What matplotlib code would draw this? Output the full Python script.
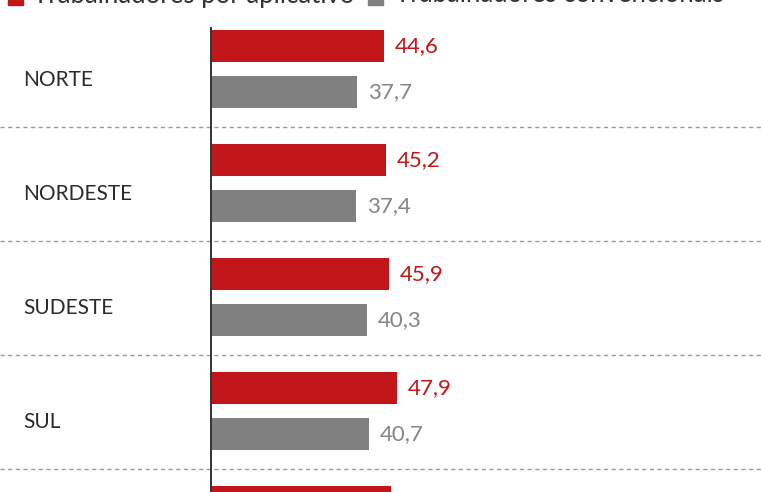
import numpy as np
import matplotlib.pyplot as plt

plt.rcParams['font.family'] = ['Lato', 'DejaVu Sans']

# dados (horas trabalhadas por semana)
regioes = ['NORTE', 'NORDESTE', 'SUDESTE', 'SUL', 'CENTRO-OESTE']
aplicativo = [44.6, 45.2, 45.9, 47.9, 46.4]
convencionais = [37.7, 37.4, 40.3, 40.7, 40.0]
legenda = ['Trabalhadores por aplicativo', 'Trabalhadores convencionais']

vermelho = '#c1161a'
cinza = '#808080'

fig = plt.figure(figsize=(7.61, 4.92), dpi=100)
ax = fig.add_axes([0, 0, 1, 1])

px = 3.879  # pixels por unidade
ax.set_xlim(-211 / px, 550 / px)
ax.set_ylim(3.711, -0.605)

y = np.arange(len(regioes))
h = 0.28
ax.barh(y - 0.2, aplicativo, height=h, color=vermelho)
ax.barh(y + 0.2, convencionais, height=h, color=cinza)

# so as 4 primeiras regioes aparecem inteiras no recorte
for i in range(4):
    ax.text(aplicativo[i] + 2.8, y[i] - 0.2, f'{aplicativo[i]:.1f}'.replace('.', ','),
            color=vermelho, fontsize=16, va='center', ha='left')
    ax.text(convencionais[i] + 2.8, y[i] + 0.2, f'{convencionais[i]:.1f}'.replace('.', ','),
            color='#858585', fontsize=16, va='center', ha='left')
    ax.text(0.030, y[i] + 0.095, regioes[i], transform=ax.get_yaxis_transform(),
            color='#2b2b2b', fontsize=15, va='center', ha='left')
    ax.axhline(y[i] + 0.505, color='#9a9a9a', lw=1, ls=(0, (3, 2.5)))

ax.vlines(0, -0.37, 5, color='#333333', lw=1.4)
ax.axis('off')

# legenda (cortada no topo)
fig.patches.append(plt.Rectangle((8 / 761, 1 - 5 / 492), 15 / 761, 15 / 492,
                                 transform=fig.transFigure, color=vermelho))
fig.text(33 / 761, 1 - 2.5 / 492, legenda[0], fontsize=18.5, color='#333333', va='baseline')
fig.patches.append(plt.Rectangle((368 / 761, 1 - 5 / 492), 15 / 761, 15 / 492,
                                 transform=fig.transFigure, color=cinza))
fig.text(395 / 761, 1 - 2.5 / 492, legenda[1], fontsize=18.5, color='#333333', va='baseline')

fig.savefig('out.png', dpi=100)
